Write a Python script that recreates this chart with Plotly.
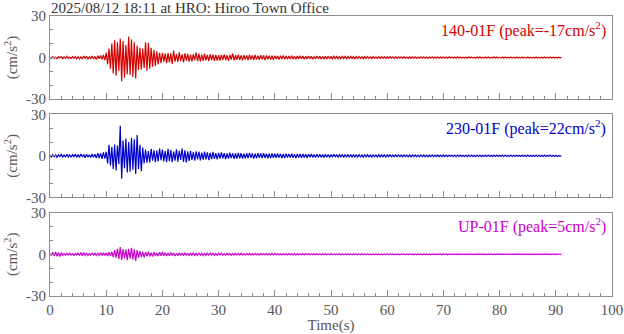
import numpy as np
import plotly.graph_objects as go

DT = 0.25

TITLE = "2025/08/12 18:11 at HRO: Hiroo Town Office"
CHANNELS = ["140-01F", "230-01F", "UP-01F"]
PEAKS = [-17, 22, 5]
COLORS = ["#d40000", "#0000cc", "#cc00cc"]
X_TICKS = [0, 10, 20, 30, 40, 50, 60, 70, 80, 90, 100]
Y_TICKS = [-30, 0, 30]
Y_TICK_TEXT = ["-30", "0", "30"]

ns_140 = [
    0.3,-0.6,0.8,-0.5,0.4,-0.9,0.6,-0.3,0.7,-0.8,0.5,-0.4,0.9,-0.6,0.3,-0.7,0.8,-0.5,0.6,-0.9,
    0.7,-1.0,0.5,-0.8,1.1,-0.6,0.9,-1.2,0.6,-0.8,1.2,-1.0,0.8,-1.4,1.3,-0.9,1.5,-1.2,2.0,-1.8,
    3.5,-4.8,6.5,-8.0,10.2,-11.5,12.5,-13.0,11.0,-9.5,13.8,-17.0,12.0,-14.5,9.0,-12.0,15.2,-12.5,13.0,-14.0,
    11.0,-15.0,8.5,-9.0,7.0,-8.5,6.5,-7.5,11.0,-9.5,10.5,-8.0,7.0,-6.5,5.5,-6.0,4.5,-5.0,3.5,-4.0,
    3.5,-3.0,2.8,-4.0,3.2,-3.5,3.0,-4.5,5.0,-3.0,2.5,-3.2,3.8,-2.6,2.4,-3.4,3.0,-2.2,2.6,-3.0,
    2.2,-2.8,2.4,-1.8,3.6,-2.5,2.8,-3.0,2.2,-2.4,2.6,-2.0,2.0,-2.6,2.4,-1.8,2.2,-2.3,1.9,-2.2,
    1.8,-2.2,2.0,-1.6,2.3,-1.9,1.7,-2.4,2.0,-1.5,3.0,-2.0,1.8,-1.6,2.1,-1.7,1.6,-2.0,1.8,-1.4,
    1.6,-1.8,1.9,-1.4,1.5,-1.7,2.0,-1.5,1.4,-1.6,1.7,-1.3,1.5,-1.8,1.6,-1.2,1.4,-1.5,1.3,-1.6,
    1.4,-1.1,1.2,-1.5,1.3,-1.0,1.6,-1.2,1.1,-1.3,1.2,-1.0,1.4,-1.2,1.0,-1.3,1.2,-1.1,1.3,-0.9,
    1.1,-1.2,0.9,-1.0,1.2,-0.8,1.0,-1.1,0.8,-1.0,1.1,-0.9,0.9,-1.0,0.8,-1.1,1.0,-0.8,0.9,-1.0,
    0.9,-0.8,1.0,-0.7,0.8,-0.9,0.7,-0.8,0.9,-0.7,0.8,-0.9,0.7,-0.6,0.9,-0.8,0.7,-0.9,0.8,-0.7,
    0.8,-0.7,0.6,-0.8,0.7,-0.6,0.8,-0.7,0.6,-0.8,0.7,-0.6,0.5,-0.7,0.8,-0.6,0.7,-0.5,0.6,-0.7,
    0.6,-0.5,0.7,-0.6,0.5,-0.6,0.7,-0.5,0.6,-0.4,0.5,-0.6,0.6,-0.5,0.4,-0.6,0.5,-0.5,0.6,-0.4,
    0.5,-0.6,0.4,-0.5,0.6,-0.4,0.5,-0.5,0.4,-0.6,0.5,-0.4,0.6,-0.5,0.4,-0.5,0.5,-0.4,0.4,-0.5,
    0.5,-0.4,0.4,-0.5,0.5,-0.3,0.4,-0.5,0.4,-0.4,0.5,-0.3,0.4,-0.4,0.3,-0.5,0.4,-0.4,0.5,-0.3,
    0.4,-0.4,0.3,-0.5,0.4,-0.3,0.5,-0.4,0.3,-0.4,0.4,-0.3,0.4,-0.4,0.3,-0.4,0.5,-0.3,0.4,-0.4,
    0.3,-0.4,0.4,-0.3,0.4,-0.4,0.3,-0.3,0.4,-0.4,0.3,-0.4,0.4,-0.3,0.3,-0.4,0.4,-0.3,0.3,-0.4,
    0.4,-0.3,0.3,-0.4,0.3,-0.3,0.4,-0.3,0.3,-0.4,0.3,-0.3,0.4,-0.3,0.3,-0.3,0.4,-0.3,0.3,-0.3,
    0.3,-0.3,0.3,-0.2,0.1,
]

ew_230 = [
    0.5,-0.8,0.9,-0.6,0.7,-1.0,0.8,-0.5,1.1,-0.7,0.6,-0.9,1.2,-0.8,0.7,-1.0,0.9,-0.6,1.0,-0.8,
    0.9,-1.1,1.3,-0.8,1.0,-1.4,1.2,-0.9,0.8,-1.2,1.4,-1.0,1.1,-1.5,2.0,-1.6,1.8,-2.2,2.5,-2.0,
    3.0,-5.5,8.0,-7.0,6.5,-9.5,8.2,-10.5,7.5,-6.0,21.8,-16.5,11.0,-9.0,12.5,-12.0,10.0,-11.5,13.0,-10.0,
    12.0,-13.0,15.0,-9.5,8.0,-11.0,6.0,-5.5,4.5,-5.0,3.5,-4.8,5.0,-3.5,4.0,-4.5,3.8,-4.0,5.2,-3.2,
    4.5,-4.0,3.5,-4.5,5.0,-3.8,4.2,-4.6,3.0,-3.5,4.8,-4.2,3.6,-3.0,5.3,-4.4,4.0,-4.8,3.2,-3.6,
    3.6,-3.0,2.8,-3.5,3.2,-2.6,3.0,-3.2,2.4,-2.8,3.1,-2.5,2.6,-3.0,2.2,-2.4,2.8,-2.2,2.0,-2.6,
    2.2,-2.0,2.5,-1.8,2.0,-2.3,1.8,-2.0,2.4,-1.6,2.0,-2.2,1.7,-1.9,2.1,-1.8,1.9,-2.0,1.6,-1.8,
    1.9,-1.7,2.2,-1.5,1.8,-2.0,1.6,-1.8,2.0,-1.5,1.7,-1.6,1.9,-1.4,1.6,-1.8,1.5,-1.6,1.8,-1.4,
    1.5,-1.4,1.7,-1.3,1.4,-1.6,1.3,-1.5,1.6,-1.2,1.4,-1.3,1.5,-1.4,1.2,-1.5,1.4,-1.2,1.3,-1.4,
    1.3,-1.2,1.1,-1.3,1.2,-1.0,1.3,-1.1,1.0,-1.2,1.1,-1.0,1.2,-1.1,0.9,-1.2,1.1,-1.0,1.0,-1.1,
    1.0,-0.9,1.1,-0.8,0.9,-1.0,0.8,-0.9,1.0,-0.8,0.9,-1.0,0.8,-0.7,1.0,-0.9,0.8,-1.0,0.9,-0.8,
    0.9,-0.8,0.7,-0.9,0.8,-0.7,0.9,-0.8,0.7,-0.9,0.8,-0.7,0.6,-0.8,0.9,-0.7,0.8,-0.6,0.7,-0.8,
    0.7,-0.6,0.8,-0.7,0.6,-0.7,0.8,-0.6,0.7,-0.5,0.6,-0.7,0.7,-0.6,0.5,-0.7,0.6,-0.6,0.7,-0.5,
    0.6,-0.7,0.5,-0.6,0.7,-0.5,0.6,-0.6,0.5,-0.7,0.6,-0.5,0.7,-0.6,0.5,-0.6,0.6,-0.5,0.5,-0.6,
    0.6,-0.5,0.5,-0.6,0.6,-0.4,0.5,-0.6,0.5,-0.5,0.6,-0.4,0.5,-0.5,0.4,-0.6,0.5,-0.5,0.6,-0.4,
    0.5,-0.5,0.4,-0.6,0.5,-0.4,0.6,-0.5,0.4,-0.5,0.5,-0.4,0.5,-0.5,0.4,-0.5,0.6,-0.4,0.5,-0.5,
    0.4,-0.5,0.5,-0.4,0.5,-0.5,0.4,-0.4,0.5,-0.5,0.4,-0.5,0.5,-0.4,0.4,-0.5,0.5,-0.4,0.4,-0.5,
    0.5,-0.4,0.4,-0.5,0.4,-0.4,0.5,-0.4,0.4,-0.5,0.4,-0.4,0.5,-0.4,0.4,-0.4,0.5,-0.4,0.4,-0.4,
    0.4,-0.4,0.3,-0.3,0.1,
]

ud_up = [
    0.5,-0.9,1.4,-1.2,1.6,-1.5,1.3,-1.6,1.2,-0.8,0.6,-0.7,0.8,-0.5,0.7,-0.6,0.5,-0.8,0.6,-0.5,
    0.8,-0.9,1.3,-1.1,1.2,-0.8,0.7,-0.9,0.6,-0.7,0.9,-0.6,0.8,-1.0,0.7,-0.8,1.0,-0.9,1.1,-0.8,
    1.0,-1.2,1.5,-1.3,1.8,-2.0,3.0,-2.5,4.0,-3.5,5.2,-4.0,3.8,-3.0,3.5,-4.2,4.0,-3.2,4.6,-3.8,
    3.5,-4.8,3.0,-2.5,2.2,-2.0,1.8,-2.2,1.6,-1.5,1.8,-1.4,1.2,-1.6,1.5,-1.2,1.0,-1.3,1.4,-1.1,
    1.6,-1.0,1.2,-1.3,0.9,-1.1,1.2,-0.9,1.0,-1.2,0.8,-1.0,1.1,-0.8,0.9,-1.0,1.0,-0.8,0.9,-1.1,
    0.9,-0.8,1.0,-0.9,0.7,-0.8,0.9,-0.7,0.8,-0.9,0.7,-0.8,0.8,-0.6,0.9,-0.7,0.7,-0.8,0.6,-0.7,
    0.7,-0.6,0.8,-0.7,0.6,-0.7,0.7,-0.5,0.6,-0.7,0.5,-0.6,0.7,-0.6,0.6,-0.5,0.7,-0.6,0.5,-0.6,
    0.6,-0.5,0.6,-0.6,0.5,-0.6,0.6,-0.5,0.5,-0.6,0.6,-0.4,0.5,-0.5,0.6,-0.5,0.4,-0.5,0.5,-0.5,
    0.5,-0.4,0.5,-0.5,0.4,-0.5,0.5,-0.4,0.4,-0.5,0.5,-0.4,0.4,-0.4,0.5,-0.4,0.4,-0.5,0.4,-0.4,
    0.4,-0.4,0.5,-0.3,0.4,-0.4,0.3,-0.4,0.4,-0.3,0.4,-0.4,0.3,-0.4,0.4,-0.3,0.4,-0.3,0.3,-0.4,
    0.4,-0.3,0.3,-0.4,0.3,-0.3,0.4,-0.3,0.3,-0.4,0.3,-0.3,0.4,-0.3,0.3,-0.3,0.4,-0.3,0.3,-0.3,
    0.3,-0.3,0.4,-0.3,0.3,-0.3,0.3,-0.4,0.3,-0.3,0.3,-0.3,0.4,-0.3,0.3,-0.3,0.3,-0.3,0.3,-0.4,
    0.3,-0.3,0.3,-0.2,0.3,-0.3,0.2,-0.3,0.3,-0.3,0.3,-0.2,0.3,-0.3,0.2,-0.3,0.3,-0.2,0.3,-0.3,
    0.2,-0.3,0.3,-0.2,0.3,-0.3,0.2,-0.2,0.3,-0.3,0.2,-0.3,0.3,-0.2,0.2,-0.3,0.3,-0.2,0.2,-0.3,
    0.3,-0.2,0.2,-0.3,0.3,-0.2,0.2,-0.3,0.2,-0.2,0.3,-0.2,0.2,-0.3,0.2,-0.2,0.3,-0.2,0.2,-0.2,
    0.2,-0.3,0.2,-0.2,0.3,-0.2,0.2,-0.2,0.3,-0.2,0.2,-0.3,0.2,-0.2,0.2,-0.3,0.2,-0.2,0.3,-0.2,
    0.2,-0.2,0.3,-0.2,0.2,-0.2,0.2,-0.3,0.2,-0.2,0.3,-0.2,0.2,-0.2,0.2,-0.2,0.3,-0.2,0.2,-0.2,
    0.2,-0.2,0.2,-0.3,0.2,-0.2,0.2,-0.2,0.3,-0.2,0.2,-0.2,0.2,-0.2,0.3,-0.2,0.2,-0.2,0.2,-0.2,
    0.2,-0.2,0.2,-0.1,0.0,
]

SERIES = [ns_140, ew_230, ud_up]

FONT = "Liberation Serif, Times New Roman, serif"
AXIS_COLOR = "#8c8c8c"
TICK_FONT_COLOR = "#555555"

DOMAINS = [[0.703, 1.0], [0.352, 0.649], [0.0, 0.298]]

fig = go.Figure()
layout = dict(
    width=624, height=334,
    margin=dict(l=50, r=12, t=16, b=38, autoexpand=False),
    paper_bgcolor="white", plot_bgcolor="white",
    showlegend=False,
    font=dict(family=FONT, size=15, color=TICK_FONT_COLOR),
)

annotations = []
for i, (vals, color, ch, pk) in enumerate(zip(SERIES, COLORS, CHANNELS, PEAKS)):
    n = i + 1
    xa = "x" if n == 1 else f"x{n}"
    ya = "y" if n == 1 else f"y{n}"
    t = np.arange(len(vals)) * DT
    fig.add_trace(go.Scatter(x=t, y=vals, mode="lines", xaxis=xa, yaxis=ya,
                             line=dict(color=color, width=1.2), hoverinfo="skip"))
    xkey = "xaxis" if n == 1 else f"xaxis{n}"
    ykey = "yaxis" if n == 1 else f"yaxis{n}"
    layout[xkey] = dict(
        domain=[0, 1], anchor=ya, range=[0, 100], automargin=False,
        tickvals=X_TICKS, showticklabels=(n == 3),
        ticks="inside", ticklen=6, tickcolor=AXIS_COLOR,
        minor=dict(dtick=2, ticks="inside", ticklen=3, tickcolor=AXIS_COLOR),
        showline=True, linecolor=AXIS_COLOR, linewidth=1, mirror=True,
        showgrid=False, zeroline=False,
        tickfont=dict(family=FONT, size=15, color=TICK_FONT_COLOR),
    )
    if n == 3:
        layout[xkey]["title"] = dict(text="Time(s)", standoff=2,
                                     font=dict(family=FONT, size=15, color=TICK_FONT_COLOR))
    layout[ykey] = dict(
        domain=DOMAINS[i], anchor=xa, range=[-30, 30], automargin=False,
        tickvals=Y_TICKS, ticktext=Y_TICK_TEXT,
        ticks="inside", ticklen=6, tickcolor=AXIS_COLOR,
        minor=dict(dtick=10, ticks="inside", ticklen=3, tickcolor=AXIS_COLOR),
        showline=True, linecolor=AXIS_COLOR, linewidth=1, mirror=True,
        showgrid=False, zeroline=False,
        tickfont=dict(family=FONT, size=15, color=TICK_FONT_COLOR),
        title=dict(text="(cm/s<sup>2</sup>)", standoff=4,
                   font=dict(family=FONT, size=15, color=TICK_FONT_COLOR)),
    )
    annotations.append(dict(
        xref=f"{xa} domain", yref=f"{ya} domain", x=0.993, y=0.99,
        xanchor="right", yanchor="top", showarrow=False,
        text=f"{ch} (peak={pk}cm/s<sup>2</sup>)",
        font=dict(family=FONT, size=16, color=color),
    ))

annotations.append(dict(
    xref="paper", yref="paper", x=0, y=1, xanchor="left", yanchor="bottom",
    showarrow=False, text=TITLE, yshift=-2, xshift=-1,
    font=dict(family=FONT, size=15, color="#333333"),
))
layout["annotations"] = annotations
fig.update_layout(**layout)
fig.write_html("out.html")
